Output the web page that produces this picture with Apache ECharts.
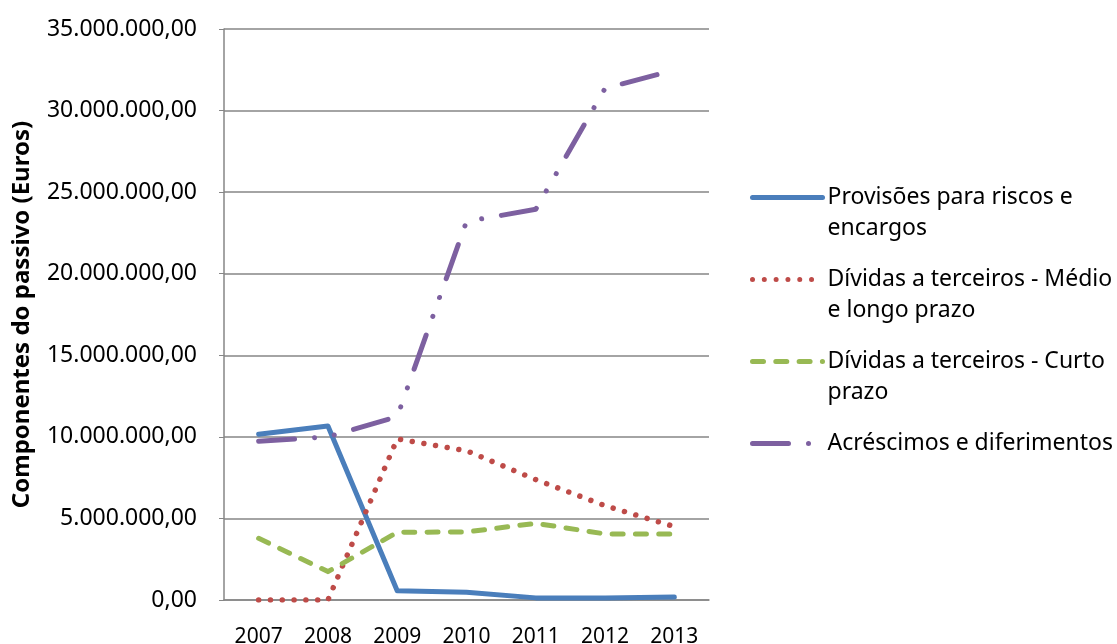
<!DOCTYPE html>
<html>
<head>
<meta charset="utf-8">
<script src="https://cdn.jsdelivr.net/npm/echarts@6/dist/echarts.min.js"></script>
<style>html,body{margin:0;padding:0;background:#fff}#c{width:1117px;height:644px}</style>
</head>
<body>
<div id="c"></div>
<script>
const categories = ['2007', '2008', '2009', '2010', '2011', '2012', '2013'];
const provisoes = [10160000, 10660000, 570000, 470000, 130000, 130000, 180000];
const dividasMLP = [0, 0, 9870000, 9150000, 7380000, 5780000, 4500000];
const dividasCP = [3780000, 1740000, 4150000, 4170000, 4700000, 4050000, 4050000];
const acrescimos = [9730000, 10000000, 11240000, 23200000, 23950000, 31360000, 32490000];
const seriesNames = ['Provisões para riscos e encargos', 'Dívidas a terceiros - Médio e longo prazo', 'Dívidas a terceiros - Curto prazo', 'Acréscimos e diferimentos'];
const legendLabels = [' \nProvisões para riscos e\nencargos', ' \nDívidas a terceiros - Médio\ne longo prazo', ' \nDívidas a terceiros - Curto\nprazo', ' \nAcréscimos e diferimentos\n '];
const yTicks = { min: 0, max: 35000000, interval: 5000000 };

const FONT = 'Noto Sans';
function fmt(v) {
  const s = Math.round(v).toString().replace(/\B(?=(\d{3})+(?!\d))/g, '.');
  return s + ',00';
}
const chart = echarts.init(document.getElementById('c'));
const lineDefs = [
  { data: provisoes, color: '#4A7EBB', type: 'solid', width: 5 },
  { data: dividasMLP, color: '#BE4B48', type: [0.01, 11.8], width: 5.5 },
  { data: dividasCP, color: '#98B954', type: [11, 12.3], width: 5 },
  { data: acrescimos, color: '#7D60A0', type: [36, 20, 0.01, 20, 0.01, 20], width: 5 }
];
chart.setOption({
  animation: false,
  textStyle: { fontFamily: FONT },
  grid: { left: 224, right: 408, top: 29, bottom: 44, containLabel: false, outerBoundsMode: 'none' },
  legend: {
    orient: 'vertical',
    left: 750,
    top: 151,
    padding: 0,
    itemGap: -11,
    itemWidth: 70,
    itemHeight: 14,
    itemStyle: { opacity: 0 },
    lineStyle: { width: 5, cap: 'round' },
    formatter: function (n) { return legendLabels[seriesNames.indexOf(n)]; },
    textStyle: { fontFamily: FONT, fontSize: 23, color: '#000', lineHeight: 31 },
    data: seriesNames
  },
  xAxis: {
    type: 'category',
    data: categories,
    boundaryGap: true,
    axisLine: { lineStyle: { color: '#868686', width: 1.5 } },
    axisTick: { show: false },
    axisLabel: { color: '#000', fontSize: 21, fontFamily: FONT, margin: 27 }
  },
  yAxis: {
    type: 'value',
    min: yTicks.min, max: yTicks.max, interval: yTicks.interval,
    name: 'Componentes do passivo (Euros)',
    nameLocation: 'middle',
    nameGap: 190,
    nameRotate: 90,
    nameTextStyle: { fontFamily: FONT, fontWeight: 'bold', fontSize: 24, color: '#000' },
    axisLine: { show: true, lineStyle: { color: '#868686', width: 1.5 } },
    axisTick: { show: true, length: 5, lineStyle: { color: '#868686' } },
    splitLine: { lineStyle: { color: '#868686', width: 1.5 } },
    axisLabel: { color: '#000', fontSize: 23, fontFamily: FONT, margin: 27, formatter: fmt }
  },
  series: lineDefs.map((d, i) => ({
    name: seriesNames[i],
    type: 'line',
    data: d.data,
    symbol: 'none',
    color: d.color,
    lineStyle: { color: d.color, width: d.width, type: d.type, cap: 'round', join: 'round' }
  }))
});
</script>
</body>
</html>
